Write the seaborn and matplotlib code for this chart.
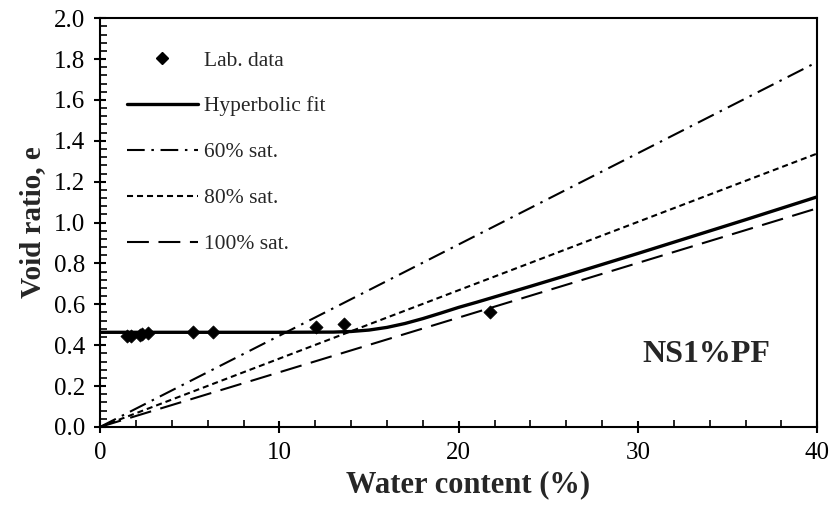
import numpy as np
import pandas as pd
import matplotlib
matplotlib.use("Agg")
import matplotlib.pyplot as plt
from matplotlib.ticker import MultipleLocator, FormatStrFormatter
from matplotlib.lines import Line2D
import seaborn as sns

# Laboratory measurements: water content (%) and void ratio
lab_w = [1.5, 1.7, 2.2, 2.35, 2.7, 5.2, 6.3, 12.05, 13.6, 21.75]
lab_e = [0.445, 0.445, 0.45, 0.455, 0.46, 0.463, 0.463, 0.487, 0.503, 0.561]

# Hyperbolic fit curve
fit_w = [0, 10, 13, 14, 15, 16, 17, 18, 19, 20, 21, 22, 24, 26, 28, 30, 32, 34, 36, 38, 40]
fit_e = [0.463, 0.463, 0.464, 0.467, 0.474, 0.487, 0.506, 0.53, 0.557, 0.585, 0.61,
         0.636, 0.688, 0.741, 0.795, 0.849, 0.904, 0.959, 1.014, 1.07, 1.126]

# Saturation lines (straight lines through the origin)
sat_w = [0, 40]
sat60_e = [0.0, 1.786]
sat80_e = [0.0, 1.338]
sat100_e = [0.0, 1.07]

sns.set_theme(style="ticks")
plt.rcParams["font.family"] = ["Liberation Serif", "DejaVu Serif"]

fig = plt.figure(figsize=(8.34, 5.2), dpi=100)
ax = fig.add_axes([0.12, 0.179, 0.86, 0.786])

s60 = (0, (8.5, 3.2, 1.2, 3.2))
s80 = (0, (2.9, 1.9))
s100 = (0, (10.5, 4.6))

sns.lineplot(x=sat_w, y=sat60_e, ax=ax, color="black", lw=1.5, linestyle=s60)
sns.lineplot(x=sat_w, y=sat80_e, ax=ax, color="black", lw=1.5, linestyle=s80)
sns.lineplot(x=sat_w, y=sat100_e, ax=ax, color="black", lw=1.5, linestyle=s100)
sns.lineplot(x=fit_w, y=fit_e, ax=ax, color="black", lw=2.4, sort=False)
sns.scatterplot(x=lab_w, y=lab_e, ax=ax, marker="D", s=45, color="black",
                edgecolor="black", linewidth=0.5, zorder=5)

ax.set_xlim(0, 40)
ax.set_ylim(0, 2.0)
ax.xaxis.set_major_locator(MultipleLocator(10))
ax.xaxis.set_minor_locator(MultipleLocator(2))
ax.yaxis.set_major_locator(MultipleLocator(0.2))
ax.yaxis.set_minor_locator(MultipleLocator(0.04))
ax.yaxis.set_major_formatter(FormatStrFormatter("%.1f"))

for side in ["left", "right", "top", "bottom"]:
    ax.spines[side].set_visible(True)
    ax.spines[side].set_linewidth(1.5)
    ax.spines[side].set_color("black")

ax.tick_params(which="major", direction="inout", length=9, width=1.5,
               labelsize=18, colors="black", pad=6)
ax.tick_params(which="minor", direction="in", length=5, width=1.2, colors="black")
ax.tick_params(axis="x", which="both", top=False)
ax.tick_params(axis="y", which="both", right=False)

ax.set_xlabel("Water content (%)", fontsize=22, fontweight="bold", labelpad=6)
ax.xaxis.set_label_coords(0.513, -0.105)
ax.set_ylabel("Void ratio, e", fontsize=21, fontweight="bold", labelpad=6)

ax.text(33.8, 0.352, "NS1%PF", fontsize=23, fontweight="bold", ha="center", va="center")

handles = [
    Line2D([], [], color="black", marker="D", linestyle="none", markersize=6),
    Line2D([], [], color="black", lw=2.4),
    Line2D([], [], color="black", lw=1.5, linestyle=s60),
    Line2D([], [], color="black", lw=1.5, linestyle=s80),
    Line2D([], [], color="black", lw=1.5, linestyle=s100),
]
labels = ["Lab. data", "Hyperbolic fit", "60% sat.", "80% sat.", "100% sat."]
leg = ax.legend(handles, labels, loc="upper left", bbox_to_anchor=(0.037, 0.921),
                frameon=False, fontsize=15.5, handlelength=3.3, handletextpad=0.28,
                labelspacing=1.2, borderaxespad=0, borderpad=0)

fig.savefig("out.png", dpi=100, facecolor="white")
